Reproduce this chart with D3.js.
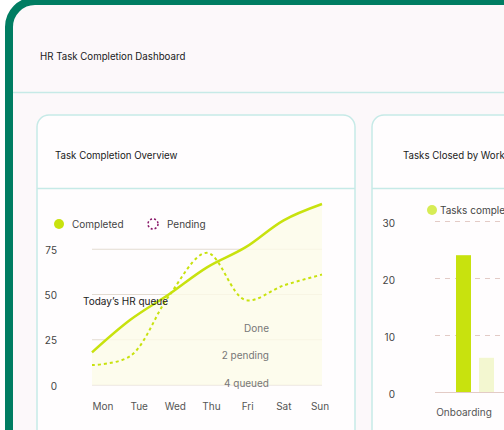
<head>
    <script src="https://cdnjs.cloudflare.com/ajax/libs/d3/7.8.5/d3.min.js"></script>
</head>

<style>
body {
    margin: 0;
    background: #fff;
    font-family: Inter, "Noto Sans", sans-serif;
}
</style>

<body>
<svg id="canvas"></svg>

<script>
const days = ['Mon', 'Tue', 'Wed', 'Thu', 'Fri', 'Sat', 'Sun'];
const completed = [18, 36, 50, 65, 76, 91, 100];
const pending = [11, 16, 49, 73, 47, 55, 61];
const lineTicks = [0, 25, 50, 75];
const notes = ['Done', '2 pending', '4 queued'];

// only the first workflow is visible in the card
const workflows = ['Onboarding'];
const closedDone = [24];
const closedOpen = [6];
const barTicks = [0, 10, 20, 30];

const W = 504, H = 430;
const LIME = '#c8e20e';

const svg = d3.select('svg#canvas')
    .attr('width', W)
    .attr('height', H);

// outer frame
svg.append('rect')
    .attr('x', 9).attr('y', 1)
    .attr('width', 560).attr('height', 500)
    .attr('rx', 26)
    .attr('fill', '#fcf8fa')
    .attr('stroke', '#007d62')
    .attr('stroke-width', 8);

svg.append('text')
    .attr('x', 40).attr('y', 57)
    .attr('dy', '0.35em')
    .attr('font-size', 9.7)
    .attr('fill', '#1a1a1a')
    .text('HR Task Completion Dashboard');

svg.append('line')
    .attr('x1', 13).attr('x2', W)
    .attr('y1', 92.5).attr('y2', 92.5)
    .attr('stroke', '#c6eae7')
    .attr('stroke-width', 1.5);

function card(x, w, titleX, title) {
    svg.append('rect')
        .attr('x', x).attr('y', 115)
        .attr('width', w).attr('height', 400)
        .attr('rx', 12)
        .attr('fill', '#fffdfe')
        .attr('stroke', '#c6eae7')
        .attr('stroke-width', 1.5);
    svg.append('line')
        .attr('x1', x).attr('x2', x + w)
        .attr('y1', 188.5).attr('y2', 188.5)
        .attr('stroke', '#c6eae7')
        .attr('stroke-width', 1.5);
    svg.append('text')
        .attr('x', titleX).attr('y', 156)
        .attr('dy', '0.35em')
        .attr('font-size', 9.7)
        .attr('fill', '#1a1a1a')
        .text(title);
}

card(37, 318, 55, 'Task Completion Overview');
card(372, 300, 403, 'Tasks Closed by Workflow');

// ---- line chart
const x = d3.scalePoint().domain(days).range([92, 322]);
const xLab = d3.scalePoint().domain(days).range([103, 320]);
const y = d3.scaleLinear().domain([0, 100]).range([385, 204]);

const lg = svg.append('g');
lg.selectAll('line.grid').data(lineTicks).enter().append('line')
    .attr('x1', 92).attr('x2', 322)
    .attr('y1', d => y(d)).attr('y2', d => y(d))
    .attr('stroke', '#e3dbd1')
    .attr('stroke-width', 1);

lg.selectAll('text.ytick').data(lineTicks).enter().append('text')
    .attr('x', 57).attr('y', d => y(d) + 1)
    .attr('dy', '0.35em')
    .attr('text-anchor', 'end')
    .attr('font-size', 10)
    .attr('fill', '#444')
    .text(d => d);

lg.selectAll('text.xtick').data(days).enter().append('text')
    .attr('x', d => xLab(d)).attr('y', 406)
    .attr('dy', '0.35em')
    .attr('text-anchor', 'middle')
    .attr('font-size', 10)
    .attr('fill', '#555')
    .text(d => d);

lg.append('path')
    .datum(completed)
    .attr('fill', '#fdfbe8')
    .attr('opacity', 0.8)
    .attr('d', d3.area()
        .x((d, i) => x(days[i]))
        .y0(y(0))
        .y1(d => y(d))
        .curve(d3.curveCatmullRom));

lg.append('path')
    .datum(completed)
    .attr('fill', 'none')
    .attr('stroke', LIME)
    .attr('stroke-width', 2.5)
    .attr('d', d3.line()
        .x((d, i) => x(days[i]))
        .y(d => y(d))
        .curve(d3.curveCatmullRom));

lg.append('path')
    .datum(pending)
    .attr('fill', 'none')
    .attr('stroke', LIME)
    .attr('stroke-width', 2)
    .attr('stroke-dasharray', '3,3')
    .attr('d', d3.line()
        .x((d, i) => x(days[i]))
        .y(d => y(d))
        .curve(d3.curveCatmullRom));

// legend
lg.append('circle').attr('cx', 59).attr('cy', 224).attr('r', 5).attr('fill', LIME);
lg.append('text').attr('x', 72).attr('y', 224).attr('dy', '0.35em')
    .attr('font-size', 10).attr('fill', '#444').text('Completed');
lg.append('circle').attr('cx', 153).attr('cy', 224).attr('r', 5)
    .attr('fill', 'none').attr('stroke', '#8a1a6a')
    .attr('stroke-width', 1.5).attr('stroke-dasharray', '2,2');
lg.append('text').attr('x', 167).attr('y', 224).attr('dy', '0.35em')
    .attr('font-size', 10).attr('fill', '#444').text('Pending');

// annotations
lg.append('text').attr('x', 83).attr('y', 301).attr('dy', '0.35em')
    .attr('font-size', 10).attr('fill', '#222').text('Today\u2019s HR queue');
lg.selectAll('text.note').data(notes).enter().append('text')
    .attr('x', 269).attr('y', (d, i) => 328 + i * 27.5)
    .attr('dy', '0.35em')
    .attr('text-anchor', 'end')
    .attr('font-size', 10)
    .attr('fill', '#777')
    .text(d => d);

// ---- bar chart
const bx = d3.scaleBand().domain(workflows).range([435, 493]).padding(0);
const by = d3.scaleLinear().domain([0, 30]).range([392, 221]);
const BAR = 15;

const bg = svg.append('g');
bg.selectAll('line.grid').data(barTicks).enter().append('line')
    .attr('x1', 435).attr('x2', W + 200)
    .attr('y1', d => by(d) + 0.5).attr('y2', d => by(d) + 0.5)
    .attr('stroke', '#e3cbc6')
    .attr('stroke-width', 1)
    .attr('stroke-dasharray', d => d === 0 ? null : '5,5');

bg.selectAll('text.ytick').data(barTicks).enter().append('text')
    .attr('x', 395).attr('y', d => by(d) + 2)
    .attr('dy', '0.35em')
    .attr('text-anchor', 'end')
    .attr('font-size', 10)
    .attr('fill', '#444')
    .text(d => d);

bg.selectAll('rect.done').data(closedDone).enter().append('rect')
    .attr('x', (d, i) => bx(workflows[i]) + 21)
    .attr('y', d => by(d))
    .attr('width', BAR)
    .attr('height', d => by(0) - by(d))
    .attr('fill', LIME);

bg.selectAll('rect.open').data(closedOpen).enter().append('rect')
    .attr('x', (d, i) => bx(workflows[i]) + 21 + BAR + 8)
    .attr('y', d => by(d))
    .attr('width', BAR)
    .attr('height', d => by(0) - by(d))
    .attr('fill', '#f3f7d0');

bg.selectAll('text.xtick').data(workflows).enter().append('text')
    .attr('x', d => bx(d) + 29).attr('y', 412)
    .attr('dy', '0.35em')
    .attr('text-anchor', 'middle')
    .attr('font-size', 10)
    .attr('fill', '#555')
    .text(d => d);

bg.append('circle').attr('cx', 432).attr('cy', 210).attr('r', 5).attr('fill', '#d7ec55');
bg.append('text').attr('x', 440).attr('y', 210).attr('dy', '0.35em')
    .attr('font-size', 10).attr('fill', '#444').text('Tasks completed');
</script>
</body>
</html>
